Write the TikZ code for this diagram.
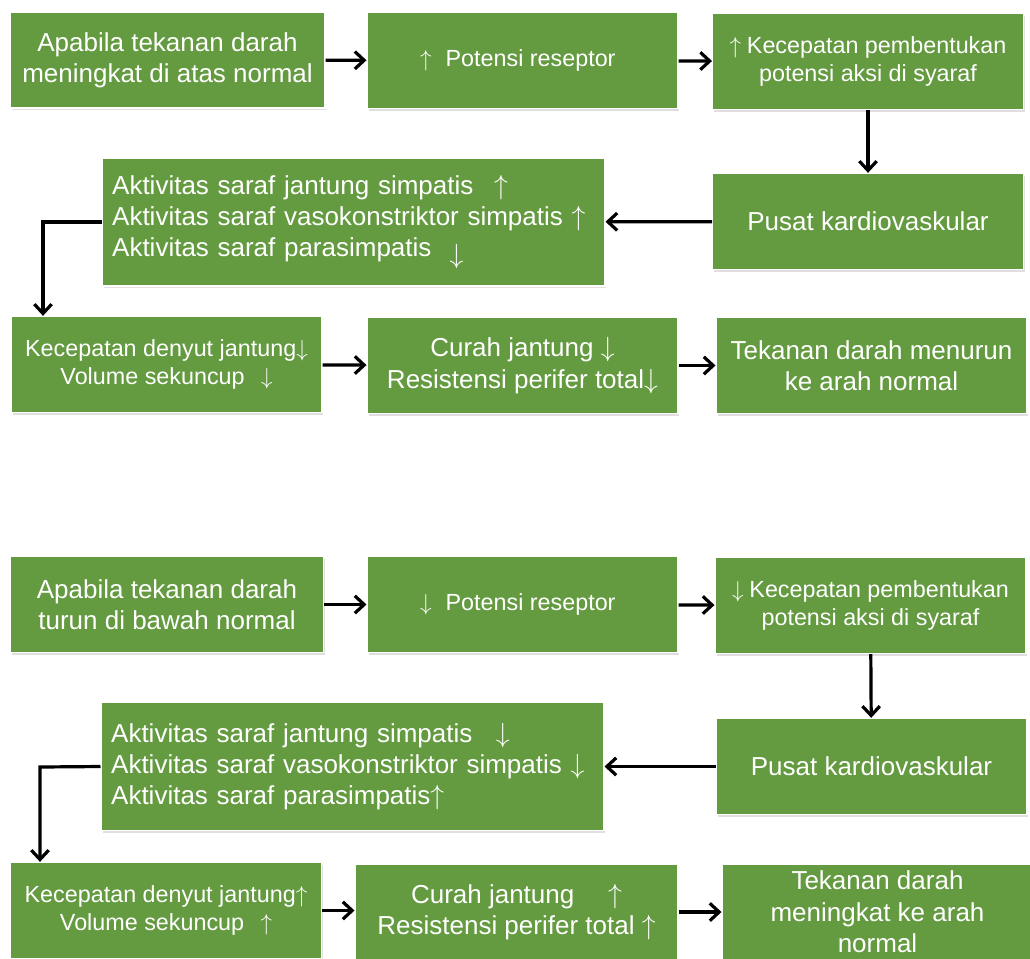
\documentclass[tikz,border=0pt]{standalone}
\usepackage{fontspec}
\setmainfont{Liberation Sans}
\usetikzlibrary{arrows.meta,shadows}
\definecolor{daun}{RGB}{100,154,64}
\newcommand{\besar}{\fontsize{19.5}{23.5}\selectfont}
\newcommand{\kecil}{\fontsize{17.5}{21}\selectfont}
\newcommand{\naik}{$\uparrow$}
\newcommand{\turun}{$\downarrow$}

\begin{document}
\begin{tikzpicture}[x=0.75pt,y=-0.75pt]
	\tikzset{>={Straight Barb[length=7pt,width=13pt]},
	  kotak/.style={fill=daun,draw=white,line width=1pt,text=white,align=center,inner sep=0pt,
	    minimum width=233pt,minimum height=72pt,font=\besar,
	    drop shadow={shadow xshift=1.2pt,shadow yshift=-1.6pt,opacity=0.25}},
	  lebar/.style={kotak,minimum width=377pt,minimum height=96pt,text width=362pt,align=left},
	  panah/.style={->,line width=2.4pt}}
	\useasboundingbox (0,0) rectangle (1030,958);

  % tekanan darah naik
  \node[kotak,minimum width=236pt] (a1) at (167.5,60) {Apabila tekanan darah\\meningkat di atas normal};
  \node[kotak,font=\kecil] (a2) at (522.5,60.5) {\naik\hspace{0.6em}Potensi reseptor\hspace{0.4em}};
  \node[kotak,font=\kecil] (a3) at (868,61.5) {\naik\hspace{0.25em}Kecepatan pembentukan\\potensi aksi di syaraf};
  \node[kotak] (a4) at (868,221.5) {Pusat kardiovaskular};
  \node[lebar] (a5) at (353.5,222) {Aktivitas saraf jantung simpatis\hspace{0.8em}\naik\\Aktivitas saraf vasokonstriktor simpatis \naik\\Aktivitas saraf parasimpatis\hspace{0.7em}\raisebox{-5pt}{\turun}};
  \node[kotak,font=\kecil] (a6) at (166.5,364.5) {Kecepatan denyut jantung\turun\\Volume sekuncup\hspace{0.7em}\turun};
  \node[kotak] (a7) at (522.5,365.5) {Curah jantung \turun\\Resistensi perifer total\turun};
  \node[kotak] (a8) at (871.5,365.5) {Tekanan darah menurun\\ke arah normal};

  \draw[panah] (a1) -- (a2);
  \draw[panah] (a2) -- (a3);
  \draw[panah] (a3) -- (a4);
  \draw[panah] (a4) -- (a5);
  \coordinate (t1) at (43,222);
  \draw[panah] (a5.west) -- (t1) -- (t1 |- a6.north);
  \draw[panah] (a6) -- (a7);
  \draw[panah] (a7) -- (a8);

  % tekanan darah turun
  \node[kotak,minimum width=235pt] (b1) at (167,604.5) {Apabila tekanan darah\\turun di bawah normal};
  \node[kotak,font=\kecil] (b2) at (522.5,604.5) {\turun\hspace{0.6em}Potensi reseptor\hspace{0.4em}};
  \node[kotak,font=\kecil] (b3) at (870.5,605.5) {\turun\hspace{0.25em}Kecepatan pembentukan\\potensi aksi di syaraf};
  \node[kotak] (b4) at (871.5,766.5) {Pusat kardiovaskular};
  \node[lebar] (b5) at (352.5,766.5) {Aktivitas saraf jantung simpatis\hspace{0.9em}\turun\\Aktivitas saraf vasokonstriktor simpatis \turun\\Aktivitas saraf parasimpatis\naik};
  \node[kotak,font=\kecil] (b6) at (166,910.5) {Kecepatan denyut jantung\naik\\Volume sekuncup\hspace{0.7em}\naik};
  \node[kotak,minimum width=242pt] (b7) at (516.5,912) {Curah jantung\hspace{1.3em}\naik\\Resistensi perifer total \naik};
  \node[kotak] (b8) at (877.5,912) {Tekanan darah\\meningkat ke arah\\normal};

  \draw[panah] (b1) -- (b2);
  \draw[panah] (b2) -- (b3);
  \draw[panah] (b3) -- (b4);
  \draw[panah] (b4) -- (b5);
  \coordinate (t2) at (40,767);
  \draw[panah] (b5.west) -- (t2) -- (t2 |- b6.north);
  \draw[panah] (b6.east) -- (b6.east -| b7.west);
  \draw[panah] (b7.east) -- (b7.east -| b8.west);

\end{tikzpicture}
\end{document}
